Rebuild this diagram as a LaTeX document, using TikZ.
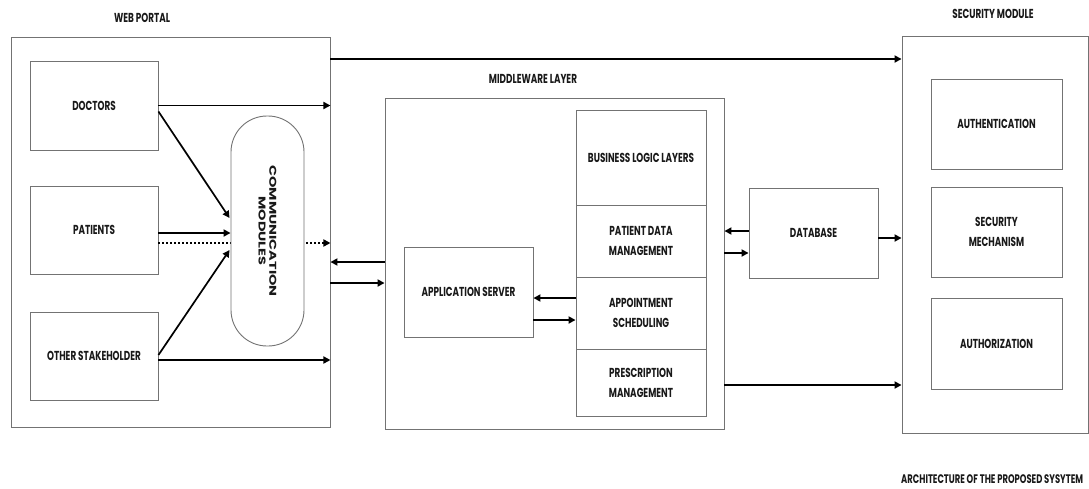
\documentclass[tikz,border=0pt]{standalone}
\usepackage{fontspec}
\setmainfont{Poppins}
\newfontfamily\lblfont{Poppins}[FakeStretch=0.68]
\usetikzlibrary{arrows.meta,calc}
\begin{document}
\begin{tikzpicture}[x=1pt,y=-1pt,
  box/.style={draw=black!55,line width=0.9pt,rectangle,inner sep=0pt,
    font=\lblfont\fontsize{13}{20}\selectfont\bfseries,text=black!90,align=center},
  lbl/.style={font=\lblfont\fontsize{13}{15}\selectfont\bfseries,text=black!90,inner sep=0pt},
  arr/.style={line width=1.7pt,-{Triangle[length=7pt,width=7pt]}},
  dotarr/.style={line width=1.7pt,dash pattern=on 2pt off 2pt,-{Triangle[length=7pt,width=7pt]}}]
\useasboundingbox (0,0) rectangle (1089,488);
% containers
\node[box,minimum width=319pt,minimum height=390pt] (web) at (170.5,232) {};
\node[box,minimum width=339pt,minimum height=331pt] (mid) at (554.5,263.5) {};
\node[box,minimum width=186pt,minimum height=397pt] (sec) at (995,234.5) {};
% web portal
\node[box,minimum width=128pt,minimum height=89pt] (doc) at (94,105.5) {DOCTORS};
\node[box,minimum width=128pt,minimum height=88pt] (pat) at (94,230) {PATIENTS};
\node[box,minimum width=128pt,minimum height=88pt] (oth) at (94,356) {OTHER STAKEHOLDER};
% dotted line first (hidden by comm module)
\draw[dotarr] ($(pat.east)+(0,13)$) -- ($(web.east |- pat.east)+(0,13)$);
\node[box,fill=white,rounded corners=36pt,minimum width=73pt,minimum height=230pt] (comm) at (267.5,231) {};
\node[inner sep=0pt,text=black!90,align=center,xscale=0.68,rotate=-90,
  font=\fontsize{14.5}{16}\selectfont\bfseries] (commtxt) at (comm.center) {COMMUNICATION\\MODULES};
% middleware
\node[box,minimum width=130pt,minimum height=95pt] (bus) at (641,157.5) {BUSINESS LOGIC LAYERS};
\node[box,minimum width=130pt,minimum height=72pt] (pdm) at (641,241) {PATIENT DATA\\MANAGEMENT};
\node[box,minimum width=130pt,minimum height=72pt] (aps) at (641,313) {APPOINTMENT\\SCHEDULING};
\node[box,minimum width=130pt,minimum height=67pt] (prm) at (641,382.5) {PRESCRIPTION\\MANAGEMENT};
\node[box,minimum width=129pt,minimum height=90pt] (app) at (468.5,292) {APPLICATION SERVER};
\node[box,minimum width=129pt,minimum height=90pt] (db) at (813.5,233) {DATABASE};
% security
\node[box,minimum width=131pt,minimum height=90pt] (auth) at (996.5,124) {AUTHENTICATION};
\node[box,minimum width=131pt,minimum height=90pt] (mech) at (996.5,232) {SECURITY\\MECHANISM};
\node[box,minimum width=131pt,minimum height=91pt] (authz) at (996.5,343.5) {AUTHORIZATION};
% labels
\node[lbl] (lweb) at (142,18) {WEB PORTAL};
\node[lbl] (lmid) at (533,79) {MIDDLEWARE LAYER};
\node[lbl] (lsec) at (993,14) {SECURITY MODULE};
\node[lbl,anchor=west,font=\lblfont\fontsize{12.4}{15}\selectfont\bfseries] (ltitle) at (901,479) {ARCHITECTURE OF THE PROPOSED SYSYTEM};
% connectors
\draw[arr] (doc.east) -- (web.east |- doc.east);
\draw[arr] ($(doc.east)+(0,6)$) -- ($(comm.west)+(-1,-13)$);
\draw[arr] ($(pat.east)+(0,3)$) -- ($(comm.west)+(0,2)$);
\draw[arr] ($(oth.east)+(0,-1)$) -- ($(comm.west)+(-1,19)$);
\draw[arr] ($(oth.east)+(0,4)$) -- ($(web.east |- oth.east)+(0,4)$);
\coordinate (topy) at (0,59);
\draw[arr] (web.east |- topy) -- (sec.west |- topy);
\coordinate (y1) at (0,262);
\coordinate (y2) at (0,283);
\draw[arr] (mid.west |- y1) -- (web.east |- y1);
\draw[arr] (web.east |- y2) -- (mid.west |- y2);
\coordinate (y3) at (0,298);
\coordinate (y4) at (0,320);
\draw[arr] (aps.west |- y3) -- (app.east |- y3);
\draw[arr] (app.east |- y4) -- (aps.west |- y4);
\coordinate (y5) at (0,231);
\coordinate (y6) at (0,253);
\draw[arr] (db.west |- y5) -- (mid.east |- y5);
\draw[arr] (mid.east |- y6) -- (db.west |- y6);
\draw[arr] ($(db.east)+(0,5)$) -- ($(sec.west |- db.east)+(0,5)$);
\coordinate (y7) at (0,385);
\draw[arr] (mid.east |- y7) -- (sec.west |- y7);
\end{tikzpicture}
\end{document}
